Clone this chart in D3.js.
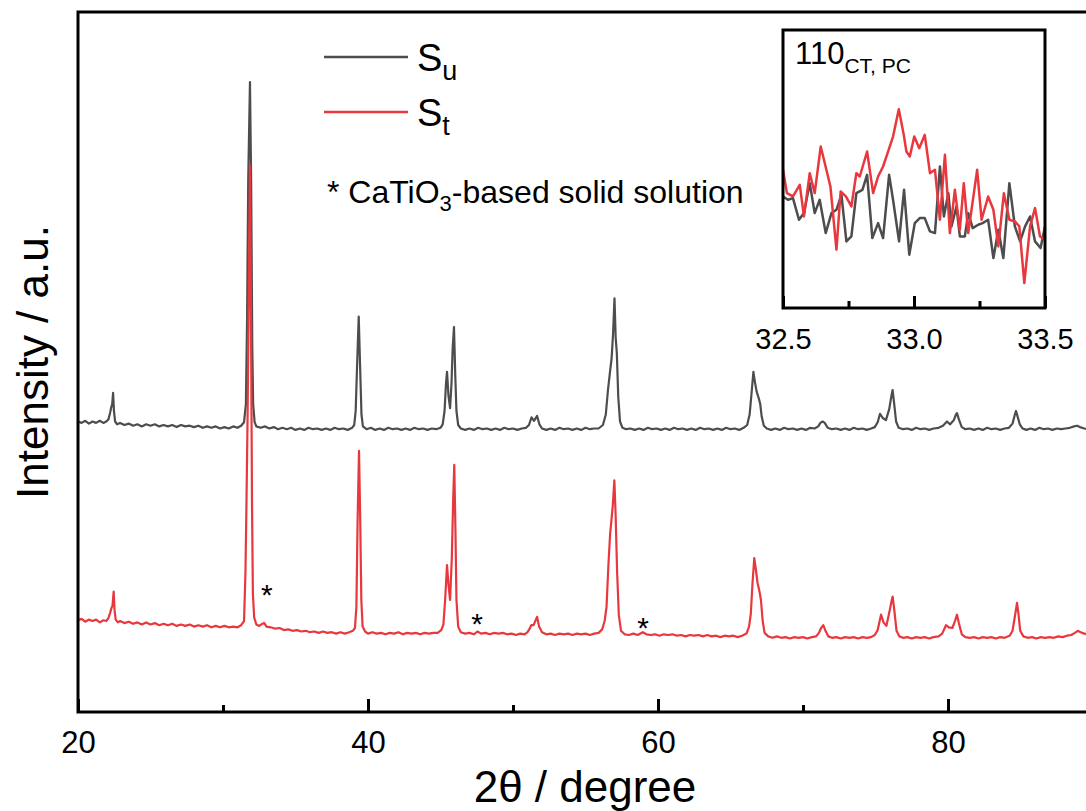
<!DOCTYPE html>
<meta charset="utf-8">
<title>XRD patterns</title>
<body>
<script src="https://cdn.jsdelivr.net/npm/d3@7"></script>
<style>
html, body {
    margin: 0;
    background: #fff;
}
svg {
    display: block;
    font-family: "Liberation Sans", Arial, sans-serif;
}
</style>
<script>
// 2theta (deg), intensity (a.u., already stacked)
var suPattern = [
  [20.0,415],[20.25,413],[20.5,416],[20.75,412],[21.0,415],[21.25,413],[21.5,416],[21.75,413],[21.95,415],
  [22.1,418],[22.22,428],[22.3,436],[22.36,440],[22.42,456],[22.48,430],[22.56,415],[22.7,411],
  [22.9,413],[23.2,410],[23.5,412],[23.8,409],[24.1,411],[24.4,408],[24.7,411],[25.0,409],[25.3,411],[25.6,408],[25.9,410],[26.2,408],[26.5,410],[26.8,407],[27.1,410],[27.4,408],[27.7,409],[28.0,407],[28.3,409],[28.6,406],[28.9,408],[29.2,406],[29.5,408],[29.8,405],[30.1,407],[30.4,405],[30.7,408],[31.0,406],[31.25,409],
  [31.45,414],[31.58,440],[31.66,560],[31.74,760],[31.86,900],[31.94,760],[32.02,520],[32.08,440],[32.18,414],[32.3,408],
  [32.6,406],[32.9,408],[33.2,405],[33.5,407],[33.8,404],[34.1,406],[34.4,404],[34.7,406],[35.0,403],[35.3,405],[35.6,403],[35.9,406],[36.2,404],[36.5,405],[36.8,403],[37.1,405],[37.4,403],[37.7,406],[38.0,404],[38.3,405],[38.6,403],[38.9,406],
  [39.05,410],[39.15,430],[39.24,490],[39.36,565],[39.46,490],[39.55,425],[39.65,408],
  [39.9,404],[40.2,406],[40.5,403],[40.8,405],[41.1,403],[41.4,406],[41.7,404],[42.0,405],[42.3,403],[42.6,405],[42.9,403],[43.2,406],[43.5,404],[43.8,405],[44.1,403],[44.4,405],[44.7,404],[45.0,406],
  [45.15,411],[45.28,430],[45.38,470],[45.45,486],[45.55,452],[45.66,434],[45.76,470],[45.84,520],[45.93,550],[46.02,480],[46.1,430],[46.22,410],[46.4,405],
  [46.7,403],[47.0,405],[47.3,403],[47.6,406],[47.9,404],[48.2,405],[48.5,403],[48.8,405],[49.1,403],[49.4,406],[49.7,404],[50.0,405],[50.3,403],[50.6,405],[50.9,406],
  [51.1,410],[51.28,421],[51.45,416],[51.66,423],[51.82,411],[52.0,405],
  [52.3,403],[52.6,405],[52.9,403],[53.2,406],[53.5,404],[53.8,405],[54.1,403],[54.4,405],[54.7,403],[55.0,406],[55.3,404],[55.6,405],[55.9,405],[56.2,410],
  [56.4,425],[56.55,460],[56.68,484],[56.8,505],[56.9,540],[57.0,591],[57.08,535],[57.16,513],[57.26,450],[57.38,415],[57.55,406],
  [57.8,404],[58.1,405],[58.4,403],[58.7,405],[59.0,403],[59.3,406],[59.6,404],[59.9,405],[60.2,403],[60.5,405],[60.8,403],[61.1,406],[61.4,404],[61.7,405],[62.0,403],[62.3,405],[62.6,403],[62.9,406],[63.2,404],[63.5,405],[63.8,403],[64.1,405],[64.4,403],[64.7,406],[65.0,404],[65.3,405],[65.6,403],[65.9,406],[66.15,410],
  [66.32,425],[66.45,455],[66.58,486],[66.68,472],[66.8,458],[66.95,448],[67.05,440],[67.15,422],[67.3,409],[67.5,405],
  [67.8,403],[68.1,405],[68.4,403],[68.7,406],[69.0,404],[69.3,405],[69.6,403],[69.9,405],[70.2,403],[70.5,406],[70.8,405],
  [71.05,408],[71.2,413],[71.35,415],[71.5,413],[71.7,406],
  [72.0,404],[72.3,405],[72.6,403],[72.9,405],[73.2,403],[73.5,406],[73.8,404],[74.1,405],[74.4,403],[74.7,405],[74.95,407],
  [75.15,414],[75.31,426],[75.5,420],[75.72,417],[75.95,433],[76.1,452],[76.18,460],[76.28,442],[76.42,415],[76.6,406],
  [76.9,404],[77.2,405],[77.5,403],[77.8,406],[78.1,404],[78.4,405],[78.7,403],[79.0,405],[79.35,406],
  [79.65,409],[79.93,415],[80.15,411],[80.4,417],[80.55,425],[80.62,427],[80.75,418],[80.95,407],
  [81.2,404],[81.5,405],[81.8,403],[82.1,405],[82.4,403],[82.7,406],[83.0,404],[83.3,405],[83.6,403],[83.9,405],[84.2,406],
  [84.45,412],[84.6,424],[84.69,430],[84.8,422],[84.95,411],[85.15,405],
  [85.4,403],[85.7,405],[86.0,403],[86.3,406],[86.6,404],[86.9,405],[87.2,403],[87.5,405],[87.8,404],[88.1,405],[88.4,406],[88.7,408],[88.9,409],[89.1,407],[89.4,405],[89.7,404],[90.0,405]
];

var stPattern = [
  [20.0,131],[20.25,133],[20.5,129],[20.75,132],[21.0,130],[21.25,132],[21.5,128],[21.75,131],[21.95,130],
  [22.1,134],[22.22,142],[22.3,148],[22.38,152],[22.46,172],[22.52,146],[22.6,132],[22.75,128],
  [22.9,130],[23.2,127],[23.5,129],[23.8,126],[24.1,128],[24.4,125],[24.7,128],[25.0,125],[25.3,127],[25.6,124],[25.9,126],[26.2,124],[26.5,126],[26.8,123],[27.1,125],[27.4,123],[27.7,125],[28.0,122],[28.3,124],[28.6,122],[28.9,124],[29.2,121],[29.5,123],[29.8,121],[30.1,123],[30.4,121],[30.7,122],[31.0,121],[31.25,124],
  [31.45,130],[31.55,200],[31.62,300],[31.7,430],[31.78,600],[31.86,781],[31.93,560],[32.0,300],[32.06,170],[32.15,135],[32.3,125],
  [32.5,123],[32.7,126],[32.85,127],[33.0,122],[33.3,121],[33.6,119],[33.9,120],[34.2,117],[34.5,118],[34.8,116],[35.1,117],[35.4,115],[35.7,116],[36.0,114],[36.3,115],[36.6,113],[36.9,115],[37.2,113],[37.5,114],[37.8,112],[38.1,114],[38.4,112],[38.7,114],[38.95,116],
  [39.1,120],[39.2,150],[39.28,270],[39.38,373],[39.46,280],[39.54,160],[39.63,122],[39.8,115],
  [40.0,112],[40.3,114],[40.6,112],[40.9,113],[41.2,111],[41.5,113],[41.8,112],[42.1,114],[42.4,111],[42.7,113],[43.0,112],[43.3,113],[43.6,111],[43.9,113],[44.2,112],[44.5,113],[44.8,113],[45.05,117],
  [45.2,125],[45.32,160],[45.45,210],[45.55,182],[45.66,160],[45.78,220],[45.87,300],[45.95,353],[46.03,260],[46.1,160],[46.22,122],[46.4,114],
  [46.7,112],[47.0,113],[47.3,111],[47.55,115],[47.8,112],[48.1,113],[48.4,111],[48.7,113],[49.0,112],[49.3,113],[49.6,111],[49.9,112],[50.2,110],[50.5,112],[50.8,111],[51.0,114],
  [51.12,118],[51.26,124],[51.42,124],[51.58,132],[51.66,136],[51.8,122],[52.0,114],
  [52.3,111],[52.6,112],[52.9,110],[53.2,112],[53.5,111],[53.8,112],[54.1,110],[54.4,112],[54.7,111],[55.0,112],[55.3,110],[55.6,112],[55.9,113],[56.15,118],
  [56.32,130],[56.45,150],[56.58,210],[56.7,255],[56.78,272],[56.88,295],[56.99,331],[57.08,280],[57.18,200],[57.3,138],[57.45,116],[57.7,111],
  [58.0,110],[58.3,112],[58.6,110],[58.95,114],[59.2,111],[59.5,110],[59.8,111],[60.1,109],[60.4,111],[60.7,110],[61.0,111],[61.3,109],[61.6,110],[61.9,108],[62.2,110],[62.5,109],[62.8,110],[63.1,108],[63.4,110],[63.7,108],[64.0,109],[64.3,107],[64.6,109],[64.9,108],[65.2,109],[65.5,107],[65.8,109],[66.1,112],
  [66.28,122],[66.4,140],[66.52,185],[66.64,220],[66.74,205],[66.86,185],[67.0,172],[67.1,160],[67.22,130],[67.35,113],[67.6,108],
  [67.9,106],[68.2,108],[68.5,106],[68.8,107],[69.1,105],[69.4,107],[69.7,106],[70.0,107],[70.3,105],[70.6,107],[70.9,108],
  [71.1,113],[71.25,120],[71.4,124],[71.55,116],[71.75,108],
  [72.0,106],[72.3,107],[72.6,105],[72.9,107],[73.2,106],[73.5,107],[73.8,105],[74.1,107],[74.4,106],[74.7,107],[74.95,110],
  [75.15,117],[75.38,139],[75.55,128],[75.75,123],[75.95,142],[76.1,158],[76.18,165],[76.3,145],[76.45,116],[76.65,108],
  [76.9,106],[77.2,107],[77.5,105],[77.8,107],[78.1,106],[78.4,107],[78.7,105],[79.0,107],[79.35,108],
  [79.6,112],[79.86,124],[80.05,121],[80.3,120],[80.5,131],[80.62,139],[80.75,127],[80.95,111],
  [81.2,107],[81.5,106],[81.8,107],[82.1,105],[82.4,107],[82.7,106],[83.0,107],[83.3,105],[83.6,107],[83.9,106],[84.25,109],
  [84.45,116],[84.6,135],[84.76,156],[84.86,140],[84.98,116],[85.2,108],
  [85.5,106],[85.8,107],[86.1,105],[86.4,107],[86.7,106],[87.0,107],[87.3,106],[87.6,108],[87.9,107],[88.2,109],[88.5,110],[88.75,113],[88.95,116],[89.15,114],[89.4,112],[89.7,111],[90.0,110]
];

// zoom on the 110 reflection
var insetSu = [
  [32.500,335],[32.519,325],[32.538,330],[32.561,265],[32.580,285],[32.602,375],[32.621,285],[32.640,325],[32.663,225],[32.685,285],
  [32.704,295],[32.723,340],[32.742,200],[32.761,215],[32.780,345],[32.803,355],[32.821,400],[32.841,210],[32.863,255],[32.882,210],
  [32.905,400],[32.920,325],[32.943,200],[32.962,355],[32.982,160],[33.003,255],[33.022,270],[33.041,270],[33.061,230],[33.080,225],
  [33.099,425],[33.114,275],[33.131,345],[33.143,245],[33.162,305],[33.175,215],[33.194,215],[33.207,285],[33.224,240],[33.245,250],
  [33.262,255],[33.283,265],[33.303,150],[33.322,235],[33.341,150],[33.364,375],[33.385,245],[33.405,200],[33.424,245],[33.443,275],
  [33.462,200],[33.483,180],[33.500,245]
];
var insetSt = [
  [32.500,415],[32.515,345],[32.538,335],[32.564,370],[32.580,275],[32.602,405],[32.621,345],[32.644,485],[32.681,365],[32.704,175],
  [32.720,350],[32.740,335],[32.761,305],[32.780,405],[32.793,395],[32.821,470],[32.844,345],[32.863,395],[32.882,425],[32.901,470],
  [32.920,515],[32.942,597],[32.961,520],[32.971,470],[32.984,455],[33.001,515],[33.020,480],[33.041,520],[33.061,405],[33.080,415],
  [33.099,265],[33.118,460],[33.137,225],[33.156,355],[33.175,235],[33.190,375],[33.207,225],[33.241,415],[33.258,265],[33.283,335],
  [33.303,295],[33.322,185],[33.343,345],[33.364,265],[33.385,260],[33.402,245],[33.421,75],[33.443,245],[33.462,300],[33.481,215],
  [33.500,205]
];

var majorTicks = [20, 40, 60, 80],
    minorTicks = [30, 50, 70, 90],
    insetMajor = [32.5, 33.0, 33.5],
    insetMinor = [32.75, 33.25];

var seriesSub = ["u", "t"],
    seriesColor = ["#4d4d4d", "#e8383d"];

// CaTiO3 reflections marked with *
var stars = [[33.03, 177], [47.52, 136], [58.97, 130]];

var width = 1086,
    height = 811;

var svg = d3.select("body").append("svg")
    .attr("width", width)
    .attr("height", height);

var x = d3.scaleLinear().domain([20, 90]).range([78, 1093]),
    y = d3.scaleLinear().domain([0, 1000]).range([712, 12]);

svg.append("clipPath").attr("id", "plotclip")
  .append("rect")
    .attr("x", 78).attr("y", 12)
    .attr("width", 1015).attr("height", 700);

var line = d3.line()
    .x(function(d) { return x(d[0]); })
    .y(function(d) { return y(d[1]); });

var traces = svg.append("g").attr("clip-path", "url(#plotclip)");

[suPattern, stPattern].forEach(function(p, i) {
    traces.append("path")
        .datum(p)
        .attr("d", line)
        .attr("fill", "none")
        .attr("stroke", seriesColor[i])
        .attr("stroke-width", 2.2)
        .attr("stroke-linejoin", "round");
});

// frame
svg.append("rect")
    .attr("x", 78).attr("y", 12)
    .attr("width", 1015).attr("height", 700)
    .attr("fill", "none")
    .attr("stroke", "#000")
    .attr("stroke-width", 3);

var xAxis = svg.append("g")
    .attr("transform", "translate(0,712)")
    .call(d3.axisBottom(x).tickValues(majorTicks).tickSize(-13).tickSizeOuter(0)
        .tickPadding(19).tickFormat(d3.format("d")));
xAxis.select(".domain").remove();
xAxis.selectAll("line").attr("stroke-width", 3);
xAxis.selectAll("text")
    .attr("font-size", 31)
    .attr("font-family", "Liberation Sans, Arial, sans-serif")
    .attr("fill", "#000");

var xMinor = svg.append("g")
    .attr("transform", "translate(0,712)")
    .call(d3.axisBottom(x).tickValues(minorTicks).tickSize(-7).tickFormat(""));
xMinor.select(".domain").remove();
xMinor.selectAll("line").attr("stroke-width", 3);

svg.append("text")
    .attr("x", 585)
    .attr("y", 802)
    .attr("text-anchor", "middle")
    .attr("font-size", 44)
    .text("2θ / degree");

svg.append("text")
    .attr("transform", "translate(48,362) rotate(-90)")
    .attr("text-anchor", "middle")
    .attr("font-size", 44)
    .text("Intensity / a.u.");

// legend
var legend = svg.append("g");
seriesSub.forEach(function(s, i) {
    var ly = 57 + i * 55;
    legend.append("line")
        .attr("x1", 324).attr("x2", 408)
        .attr("y1", ly).attr("y2", ly)
        .attr("stroke", seriesColor[i])
        .attr("stroke-width", 2.5);
    var t = legend.append("text")
        .attr("x", 417)
        .attr("y", ly + 14)
        .attr("font-size", 38)
        .text("S");
    t.append("tspan")
        .attr("dy", 9)
        .attr("font-size", 27)
        .text(s);
});

var note = svg.append("text")
    .attr("x", 327)
    .attr("y", 203)
    .attr("font-size", 32);
note.append("tspan").text("* CaTiO");
note.append("tspan").attr("dy", 8).attr("font-size", 22).text("3");
note.append("tspan").attr("dy", -8).text("-based solid solution");

svg.selectAll("text.star")
    .data(stars)
  .enter().append("text")
    .attr("class", "star")
    .attr("x", function(d) { return x(d[0]); })
    .attr("y", function(d) { return y(d[1]) + 17; })
    .attr("text-anchor", "middle")
    .attr("font-size", 30)
    .text("*");

// inset
var x2 = d3.scaleLinear().domain([32.5, 33.5]).range([783, 1045]),
    y2 = d3.scaleLinear().domain([0, 835]).range([308, 30]);

var inset = svg.append("g");

inset.append("rect")
    .attr("x", 783).attr("y", 30)
    .attr("width", 262).attr("height", 278)
    .attr("fill", "#fff");

svg.append("clipPath").attr("id", "insetclip")
  .append("rect")
    .attr("x", 783).attr("y", 30)
    .attr("width", 262).attr("height", 278);

var line2 = d3.line()
    .x(function(d) { return x2(d[0]); })
    .y(function(d) { return y2(d[1]); });

var insetTraces = inset.append("g").attr("clip-path", "url(#insetclip)");
[insetSu, insetSt].forEach(function(p, i) {
    insetTraces.append("path")
        .datum(p)
        .attr("d", line2)
        .attr("fill", "none")
        .attr("stroke", seriesColor[i])
        .attr("stroke-width", 2.5)
        .attr("stroke-linejoin", "round");
});

inset.append("rect")
    .attr("x", 783).attr("y", 30)
    .attr("width", 262).attr("height", 278)
    .attr("fill", "none")
    .attr("stroke", "#000")
    .attr("stroke-width", 3);

var x2Axis = inset.append("g")
    .attr("transform", "translate(0,308)")
    .call(d3.axisBottom(x2).tickValues(insetMajor).tickSize(-12).tickSizeOuter(0)
        .tickPadding(20).tickFormat(d3.format(".1f")));
x2Axis.select(".domain").remove();
x2Axis.selectAll("line").attr("stroke-width", 3);
x2Axis.selectAll("text")
    .attr("font-size", 29)
    .attr("font-family", "Liberation Sans, Arial, sans-serif")
    .attr("fill", "#000");

var x2Minor = inset.append("g")
    .attr("transform", "translate(0,308)")
    .call(d3.axisBottom(x2).tickValues(insetMinor).tickSize(-7).tickFormat(""));
x2Minor.select(".domain").remove();
x2Minor.selectAll("line").attr("stroke-width", 3);

var insetLabel = inset.append("text")
    .attr("x", 795)
    .attr("y", 64)
    .attr("font-size", 31)
    .text("110");
insetLabel.append("tspan")
    .attr("dy", 9)
    .attr("font-size", 21)
    .text("CT, PC");
</script>
